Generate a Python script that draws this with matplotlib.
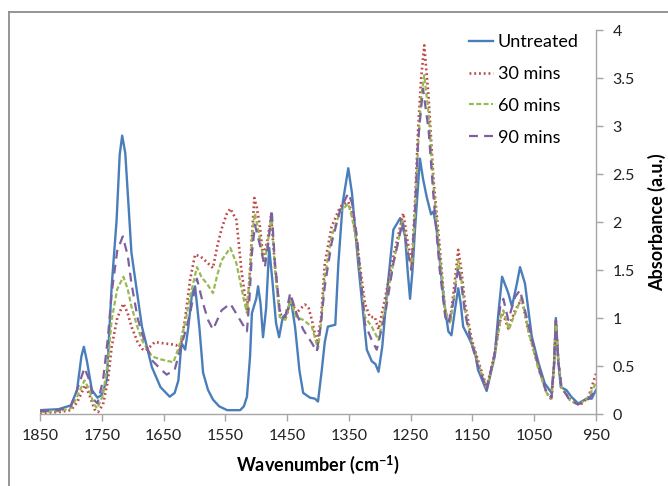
import matplotlib
matplotlib.use("Agg")
import matplotlib.pyplot as plt
from matplotlib.lines import Line2D

plt.rcParams['font.family'] = ['Lato', 'DejaVu Sans']
plt.rcParams['mathtext.fontset'] = 'custom'
plt.rcParams['mathtext.rm'] = 'Lato'
plt.rcParams['mathtext.bf'] = 'Lato:bold'
plt.rcParams['mathtext.it'] = 'Lato:italic'

# ---- data ----
wn_untreated = [1850, 1820, 1800, 1790, 1783, 1779, 1774, 1766, 1757, 1750, 1742, 1734, 1726, 1721, 1717,
                1712, 1706, 1702, 1685, 1669, 1655, 1640, 1632, 1626, 1621, 1615, 1610, 1604, 1599, 1592,
                1586, 1578, 1570, 1560, 1547, 1526, 1520, 1515, 1510, 1507, 1500, 1497, 1493, 1489, 1484,
                1479, 1474, 1468, 1463, 1457, 1450, 1444, 1437, 1430, 1424, 1413, 1405, 1400, 1394, 1389,
                1384, 1372, 1367, 1360, 1351, 1345, 1335, 1321, 1313, 1307, 1302, 1296, 1289, 1278, 1267,
                1259, 1255, 1251, 1247, 1243, 1235, 1230, 1224, 1217, 1213, 1208, 1197, 1189, 1184, 1178,
                1173, 1169, 1165, 1154, 1146, 1141, 1127, 1114, 1108, 1102, 1092, 1086, 1078, 1073, 1065,
                1054, 1043, 1033, 1022, 1018, 1015, 1011, 1007, 998, 990, 979, 965, 957, 950]
abs_untreated = [0.04, 0.05, 0.09, 0.25, 0.60, 0.70, 0.55, 0.25, 0.17, 0.20, 0.35, 1.33, 2.02, 2.70, 2.90,
                 2.72, 2.10, 1.68, 0.91, 0.49, 0.28, 0.18, 0.22, 0.35, 0.74, 0.67, 0.90, 1.25, 1.33, 0.90,
                 0.43, 0.25, 0.15, 0.08, 0.04, 0.04, 0.08, 0.18, 0.60, 1.05, 1.20, 1.33, 1.15, 0.80, 1.10,
                 1.73, 1.40, 0.95, 0.80, 1.01, 1.05, 1.20, 0.90, 0.45, 0.22, 0.17, 0.16, 0.13, 0.45, 0.75,
                 0.91, 0.93, 1.57, 2.20, 2.56, 2.30, 1.57, 0.67, 0.55, 0.52, 0.44, 0.70, 1.22, 1.92, 2.04,
                 1.85, 1.50, 1.20, 1.50, 1.92, 2.66, 2.45, 2.26, 2.08, 2.11, 1.92, 1.22, 0.86, 0.82, 1.10,
                 1.31, 1.15, 0.91, 0.77, 0.65, 0.46, 0.24, 0.60, 1.05, 1.43, 1.26, 1.12, 1.36, 1.53, 1.36,
                 0.81, 0.53, 0.32, 0.22, 0.50, 1.00, 0.55, 0.28, 0.25, 0.18, 0.11, 0.16, 0.16, 0.25]

wn_30 = [1850, 1820, 1800, 1790, 1777, 1770, 1762, 1756, 1748, 1740, 1734, 1725, 1715, 1708, 1702, 1692,
         1685, 1680, 1672, 1664, 1655, 1642, 1630, 1623, 1615, 1607, 1599, 1590, 1583, 1570, 1563, 1556,
         1548, 1542, 1532, 1524, 1515, 1511, 1507, 1503, 1499, 1494, 1489, 1482, 1476, 1470, 1462, 1453,
         1444, 1435, 1428, 1421, 1415, 1410, 1402, 1395, 1389, 1378, 1364, 1351, 1345, 1337, 1324, 1316,
         1308, 1302, 1291, 1278, 1262, 1255, 1248, 1243, 1238, 1233, 1228, 1221, 1213, 1203, 1194, 1186,
         1180, 1173, 1168, 1162, 1151, 1141, 1127, 1114, 1103, 1098, 1092, 1081, 1070, 1060, 1043, 1030,
         1022, 1018, 1015, 1011, 1006, 992, 976, 962, 950]
abs_30 = [0.01, 0.02, 0.04, 0.12, 0.30, 0.20, 0.05, 0.02, 0.10, 0.35, 0.70, 1.00, 1.15, 1.05, 0.91, 0.75,
          0.68, 0.66, 0.70, 0.75, 0.74, 0.73, 0.72, 0.67, 1.00, 1.40, 1.66, 1.64, 1.60, 1.52, 1.75, 1.93,
          2.08, 2.14, 2.02, 1.50, 1.08, 1.40, 1.85, 2.25, 2.15, 1.95, 1.64, 1.80, 2.06, 1.57, 1.05, 0.98,
          1.20, 1.05, 1.10, 1.14, 1.10, 0.98, 0.74, 1.00, 1.57, 1.95, 2.16, 2.21, 2.10, 1.78, 1.15, 1.01,
          1.01, 0.88, 1.22, 1.64, 2.09, 1.80, 1.57, 2.20, 2.96, 3.50, 3.84, 3.30, 2.44, 1.74, 1.05, 0.98,
          1.30, 1.71, 1.50, 1.15, 0.77, 0.56, 0.28, 0.63, 1.05, 1.00, 0.89, 1.08, 1.20, 0.88, 0.49, 0.22,
          0.15, 0.50, 0.97, 0.55, 0.28, 0.15, 0.09, 0.18, 0.42]

wn_60 = [1850, 1820, 1800, 1790, 1778, 1770, 1763, 1757, 1748, 1740, 1734, 1725, 1715, 1708, 1702, 1692,
         1685, 1669, 1655, 1642, 1634, 1625, 1615, 1607, 1596, 1588, 1580, 1570, 1563, 1556, 1542, 1532,
         1521, 1515, 1510, 1506, 1502, 1495, 1487, 1481, 1475, 1470, 1462, 1453, 1445, 1435, 1424, 1410,
         1400, 1395, 1389, 1378, 1364, 1351, 1345, 1337, 1324, 1313, 1302, 1291, 1278, 1263, 1255, 1248,
         1243, 1238, 1233, 1228, 1221, 1213, 1203, 1194, 1186, 1180, 1173, 1168, 1162, 1151, 1141, 1127,
         1114, 1104, 1100, 1091, 1081, 1070, 1060, 1043, 1030, 1022, 1018, 1015, 1011, 1006, 992, 979,
         965, 950]
abs_60 = [0.02, 0.03, 0.06, 0.18, 0.35, 0.25, 0.10, 0.06, 0.20, 0.55, 0.98, 1.30, 1.43, 1.30, 1.12, 0.90,
          0.77, 0.60, 0.57, 0.55, 0.54, 0.70, 0.95, 1.22, 1.53, 1.42, 1.36, 1.26, 1.45, 1.60, 1.73, 1.57,
          1.22, 1.05, 1.50, 1.90, 2.09, 1.85, 1.57, 1.80, 2.07, 1.53, 1.01, 0.98, 1.19, 1.01, 0.98, 0.91,
          0.68, 0.95, 1.43, 1.85, 2.11, 2.19, 2.05, 1.78, 1.01, 0.91, 0.77, 1.12, 1.57, 2.02, 1.70, 1.53,
          2.10, 2.78, 3.30, 3.53, 3.13, 2.37, 1.64, 1.08, 0.94, 1.20, 1.60, 1.40, 1.08, 0.74, 0.53, 0.27,
          0.60, 1.01, 1.08, 0.88, 1.05, 1.22, 0.88, 0.46, 0.22, 0.16, 0.50, 0.95, 0.55, 0.28, 0.14, 0.10,
          0.15, 0.32]

wn_90 = [1850, 1820, 1800, 1790, 1778, 1770, 1763, 1757, 1748, 1740, 1734, 1725, 1716, 1708, 1702, 1692,
         1685, 1669, 1655, 1645, 1632, 1622, 1615, 1607, 1596, 1586, 1578, 1570, 1563, 1556, 1542, 1529,
         1515, 1511, 1507, 1502, 1494, 1486, 1480, 1475, 1470, 1462, 1453, 1445, 1435, 1424, 1410, 1402,
         1396, 1389, 1378, 1364, 1351, 1345, 1337, 1324, 1313, 1305, 1291, 1278, 1263, 1255, 1249, 1243,
         1238, 1230, 1221, 1213, 1203, 1194, 1189, 1180, 1173, 1168, 1162, 1151, 1141, 1127, 1114, 1105,
         1100, 1092, 1081, 1073, 1062, 1043, 1030, 1022, 1018, 1015, 1011, 1006, 992, 979, 965, 950]
abs_90 = [0.03, 0.04, 0.08, 0.25, 0.48, 0.35, 0.15, 0.11, 0.35, 0.80, 1.26, 1.70, 1.85, 1.65, 1.36, 1.00,
          0.84, 0.56, 0.47, 0.41, 0.46, 0.70, 0.85, 1.05, 1.41, 1.15, 0.98, 0.88, 0.98, 1.08, 1.15, 1.01,
          0.86, 1.20, 1.67, 1.97, 1.76, 1.53, 1.80, 2.13, 1.60, 1.08, 1.01, 1.26, 1.05, 0.88, 0.74, 0.65,
          0.90, 1.33, 1.78, 2.13, 2.30, 2.20, 1.85, 0.94, 0.77, 0.67, 1.05, 1.57, 2.00, 1.70, 1.50, 2.10,
          2.85, 3.39, 2.96, 2.26, 1.50, 1.01, 0.94, 1.20, 1.53, 1.35, 1.05, 0.72, 0.50, 0.26, 0.63, 1.12,
          1.20, 0.98, 1.22, 1.29, 1.00, 0.49, 0.22, 0.17, 0.50, 0.97, 0.55, 0.28, 0.14, 0.10, 0.14, 0.25]

series_labels = ["Untreated", "30 mins", "60 mins", "90 mins"]
x_ticks = [1850, 1750, 1650, 1550, 1450, 1350, 1250, 1150, 1050, 950]
y_ticks = [0, 0.5, 1, 1.5, 2, 2.5, 3, 3.5, 4]
y_ticklabels = ["0", "0.5", "1", "1.5", "2", "2.5", "3", "3.5", "4"]

# ---- figure ----
W, H = 668, 486
fig = plt.figure(figsize=(W / 100, H / 100), dpi=100)
ax = fig.add_axes([40 / W, 1 - 414 / H, (596 - 40) / W, (414 - 30) / H])

ax.plot(wn_untreated, abs_untreated, color='#4a7ebb', lw=1.7, label=series_labels[0])
ax.plot(wn_30, abs_30, color='#be4b48', lw=1.9, linestyle=(0, (0.7, 1.1)), label=series_labels[1])
ax.plot(wn_60, abs_60, color='#98b954', lw=1.6, linestyle=(0, (2.2, 1.1)), label=series_labels[2])
ax.plot(wn_90, abs_90, color='#7d60a0', lw=1.6, linestyle=(0, (4.0, 2.8)), label=series_labels[3])

ax.set_xlim(1850, 950)
ax.set_ylim(0, 4)
ax.set_xticks(x_ticks)
ax.set_xticklabels([str(t) for t in x_ticks])
ax.set_yticks(y_ticks)
ax.set_yticklabels(y_ticklabels)

for s in ['top', 'left']:
    ax.spines[s].set_visible(False)
for s in ['bottom', 'right']:
    ax.spines[s].set_color('#a6a6a6')
    ax.spines[s].set_linewidth(1.0)

ax.yaxis.tick_right()
ax.yaxis.set_label_position('right')
ax.tick_params(axis='both', direction='out', length=5, width=1.0, color='#a6a6a6',
               labelsize=11.5, labelcolor='#222222')
ax.tick_params(axis='y', pad=7)
ax.tick_params(axis='x', pad=6)

ax.set_xlabel(r'Wavenumber (cm$^{\mathbf{-1}}$)', fontsize=13, fontweight='bold', labelpad=7)
ax.set_ylabel('Absorbance (a.u.)', fontsize=13, fontweight='bold', labelpad=9)

leg = ax.legend(loc='upper left', bbox_to_anchor=(469 / W, 1 - 34 / H), bbox_transform=fig.transFigure,
                frameon=False, fontsize=13, handlelength=1.35, handletextpad=0.25, labelspacing=0.88,
                borderaxespad=0, borderpad=0)

# outer frame (partially visible border of the original figure)
fig.add_artist(Line2D([9 / W, 1], [1 - 12 / H, 1 - 12 / H], transform=fig.transFigure,
                      color='#8c8c8c', lw=1.3))
fig.add_artist(Line2D([9 / W, 9 / W], [0, 1 - 12 / H], transform=fig.transFigure,
                      color='#8c8c8c', lw=1.3))

fig.savefig('out.png', dpi=100)
